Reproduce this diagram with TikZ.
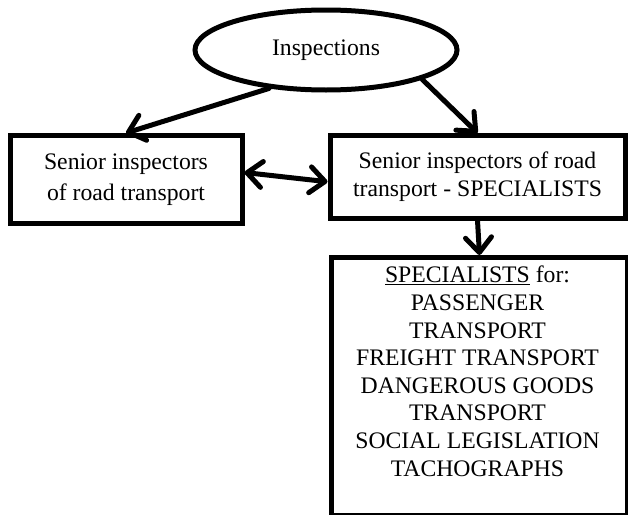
\documentclass[tikz,border=0pt]{standalone}
\usepackage{fontspec}
\setmainfont{Liberation Serif}
\usetikzlibrary{arrows.meta,shapes.geometric}
\begin{document}
\begin{tikzpicture}[x=1pt,y=-1pt,
  every node/.style={font=\fontsize{23.7}{28}\selectfont, inner sep=0pt, align=center},
  boxnode/.style={draw=black, line width=5pt, rectangle, fill=white},
  ovalnode/.style={draw=black, line width=5pt, ellipse, fill=white},
  conn/.style={line width=5pt, line cap=round, -{Straight Barb[length=15pt,width=26pt,line cap=round,line join=round]}},
  bconn/.style={line width=5pt, line cap=round, {Straight Barb[length=15pt,width=26pt,line cap=round,line join=round]}-{Straight Barb[length=15pt,width=26pt,line cap=round,line join=round]}}
]
\useasboundingbox (0,0) rectangle (628,514);
\node[ovalnode, minimum width=262pt, minimum height=80pt] (e) at (326,50) {Inspections};
\node[boxnode, minimum width=232pt, minimum height=88pt,
      font=\fontsize{23.7}{31}\selectfont] (lb) at (126,179.5) {Senior inspectors\\of road transport};
\node[boxnode, minimum width=295pt, minimum height=82.5pt] (rb) at (477.5,176.75) {Senior inspectors of road\\transport - SPECIALISTS};
\node[boxnode, minimum width=296pt, minimum height=258pt, anchor=north west] (bb) at (329,255) {};
\node[anchor=north, font=\fontsize{23.7}{27.6}\selectfont] (bt) at (477.5,266) {\underline{SPECIALISTS} for:\\PASSENGER\\TRANSPORT\\FREIGHT TRANSPORT\\DANGEROUS GOODS\\TRANSPORT\\SOCIAL LEGISLATION\\TACHOGRAPHS};
\draw[conn] (e.214) -- (lb.north);
\draw[conn] (e.-17) -- (rb.north);
\draw[bconn] ([yshift=7pt]lb.east) -- ([yshift=-5pt]rb.west);
\draw[conn] (rb.south) -- (bb.north);
\end{tikzpicture}
\end{document}
